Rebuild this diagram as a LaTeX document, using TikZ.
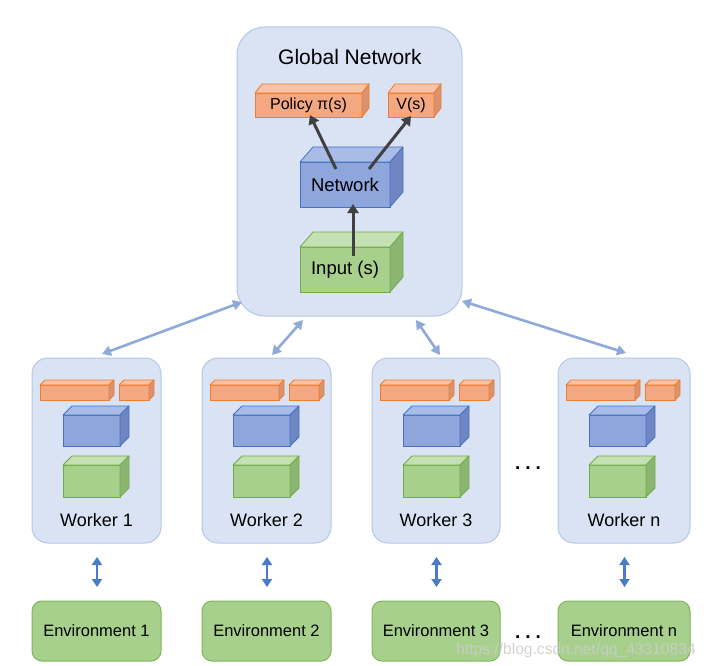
\documentclass[tikz,border=0pt]{standalone}
\usepackage{fontspec}
\setmainfont{Liberation Sans}
\usetikzlibrary{arrows.meta,calc}
\definecolor{panelfill}{HTML}{DAE3F3}
\definecolor{panelline}{HTML}{B4C7E7}
\definecolor{orfront}{HTML}{F4A882}
\definecolor{ortop}{HTML}{F7C2A6}
\definecolor{orside}{HTML}{DB9270}
\definecolor{orline}{HTML}{ED7D31}
\definecolor{blfront}{HTML}{8EA6DC}
\definecolor{bltop}{HTML}{A9BCE7}
\definecolor{blside}{HTML}{6F86C2}
\definecolor{blline}{HTML}{4472C4}
\definecolor{grfront}{HTML}{A8D08D}
\definecolor{grtop}{HTML}{C5E0B3}
\definecolor{grside}{HTML}{8CB573}
\definecolor{grline}{HTML}{70AD47}
\definecolor{envline}{HTML}{7DB65A}
\definecolor{darkarrow}{HTML}{404040}
\definecolor{lightarrow}{HTML}{8EAADB}
\definecolor{vertarrow}{HTML}{4A7BCB}
\newcommand{\cubesides}[6]{%
  \filldraw[fill=#4,draw=#6,line width=0.8pt,line join=round]
    (#1.north west) -- ($(#1.north west)+(#2,-#3)$) -- ($(#1.north east)+(#2,-#3)$) -- (#1.north east) -- cycle;
  \filldraw[fill=#5,draw=#6,line width=0.8pt,line join=round]
    (#1.north east) -- ($(#1.north east)+(#2,-#3)$) -- ($(#1.south east)+(#2,-#3)$) -- (#1.south east) -- cycle;}
\tikzset{
  panel/.style={draw=panelline, fill=panelfill, line width=1pt, inner sep=0pt, outer sep=0pt},
  orface/.style={draw=orline, fill=orfront, line width=0.8pt, inner sep=0pt, outer sep=0pt},
  blface/.style={draw=blline, fill=blfront, line width=0.8pt, inner sep=0pt, outer sep=0pt},
  grface/.style={draw=grline, fill=grfront, line width=0.8pt, inner sep=0pt, outer sep=0pt},
  envbox/.style={draw=envline, fill=grfront, line width=1pt, rounded corners=10pt, inner sep=0pt, outer sep=0pt,
    minimum height=60pt, font=\fontsize{16.5}{19}\selectfont},
  darrow/.style={draw=darkarrow, line width=3pt, -{Triangle[length=9pt,width=11pt]}},
  larrow/.style={draw=lightarrow, line width=2.6pt, {Triangle[length=9pt,width=10pt]}-{Triangle[length=9pt,width=10pt]}},
  varrow/.style={draw=vertarrow, line width=2.6pt, {Triangle[length=8pt,width=10pt]}-{Triangle[length=8pt,width=10pt]}},
  wlabel/.style={font=\fontsize{18}{21}\selectfont},
  dotsty/.style={font=\bfseries\fontsize{19}{21}\selectfont, anchor=base},
}
\begin{document}
\begin{tikzpicture}[x=1pt,y=-1pt]
\useasboundingbox[fill=white] (0,0) rectangle (712,666);

% global network
\node[panel, rounded corners=28pt, minimum width=225pt, minimum height=289pt] (glob) at (349.5,171.5) {};
\node[font=\fontsize{21}{25}\selectfont] (gtitle) at (350,57) {Global Network};

\node[orface, minimum width=107pt, minimum height=24pt, font=\fontsize{16}{19}\selectfont] (pol) at (308.5,105) {Policy π(s)};
\cubesides{pol}{7}{9}{ortop}{orside}{orline}
\node[orface, minimum width=46pt, minimum height=24pt, font=\fontsize{16}{19}\selectfont] (val) at (411,105) {V(s)};
\cubesides{val}{7}{9}{ortop}{orside}{orline}
\node[blface, minimum width=90pt, minimum height=45pt, font=\fontsize{18.5}{21}\selectfont] (net) at (345,184.5) {Network};
\cubesides{net}{13}{15}{bltop}{blside}{blline}
\node[grface, minimum width=90pt, minimum height=45pt, font=\fontsize{18.5}{21}\selectfont] (inp) at (345,269.5) {Input (s)};
\cubesides{inp}{13}{15}{grtop}{grside}{grline}

\draw[darrow] ($(net.north)+(-9,7)$) -- ($(pol.south)+(1.5,-2)$);
\draw[darrow] ($(net.north)+(24,7)$) -- ($(val.south)+(0,-1)$);
\draw[darrow] ($(inp.north)+(8,9)$) -- ($(net.south)+(8,-3)$);

% workers and environments
\foreach \n/\L/\R in {1/32/161, 2/202/331, 3/372/500, n/558/690}{
  \node[panel, rounded corners=16pt, minimum width={\R-\L}, minimum height=185pt] (w\n) at ({(\L+\R)/2},450.5) {};
  \node[orface, minimum width=69pt, minimum height=15pt] (wa\n) at ({\L+42.5},392.5) {};
  \cubesides{wa\n}{5}{5}{ortop}{orside}{orline}
  \node[orface, minimum width=30pt, minimum height=15pt] (wb\n) at ({\L+102},392.5) {};
  \cubesides{wb\n}{5}{5}{ortop}{orside}{orline}
  \node[blface, minimum width=57pt, minimum height=31pt] (wc\n) at ({\L+59.5},430.5) {};
  \cubesides{wc\n}{9}{9}{bltop}{blside}{blline}
  \node[grface, minimum width=57pt, minimum height=32pt] (wd\n) at ({\L+59.5},481) {};
  \cubesides{wd\n}{9}{9}{grtop}{grside}{grline}
  \node[wlabel] (wl\n) at ({(\L+\R)/2},520) {Worker \n};
  \node[envbox, minimum width={\R-\L}] (e\n) at ({(\L+\R)/2},631) {Environment \n};
  \draw[varrow] ($(w\n.south)+(0.5,14)$) -- ($(e\n.north)+(0.5,-14)$);
}

% connections global <-> workers
\coordinate (g1) at (242,302);
\coordinate (g2) at (303,320);
\coordinate (g3) at (416,320);
\coordinate (g4) at (462,301);
\coordinate (t1) at (102,354);
\coordinate (t2) at (272,355);
\coordinate (t3) at (440,355);
\coordinate (t4) at (626,353);
\draw[larrow] (g1) -- (t1);
\draw[larrow] (g2) -- (t2);
\draw[larrow] (g3) -- (t3);
\draw[larrow] (g4) -- (t4);

% ellipses
\node[dotsty] (dots1) at (528,469) {.\hspace{5pt}.\hspace{5pt}.};
\node[dotsty] (dots2) at (528,638) {.\hspace{5pt}.\hspace{5pt}.};

% watermark
\node[font=\fontsize{15.6}{18}\selectfont, text=gray!40, opacity=0.85, anchor=base] (wm) at (576,654) {https://blog.csdn.net/qq\_43310834};
\end{tikzpicture}
\end{document}
